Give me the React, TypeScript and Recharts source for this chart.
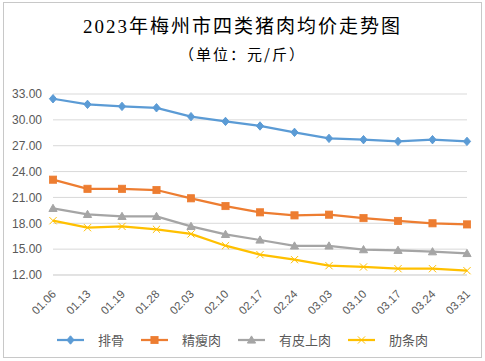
import React from "react";
import { LineChart, Line, XAxis, YAxis, CartesianGrid, Legend } from "recharts";

// 日期（2023年）
const dates = [
  "01.06", "01.13", "01.19", "01.28", "02.03", "02.10", "02.17",
  "02.24", "03.03", "03.10", "03.17", "03.24", "03.31",
];

// 各类猪肉均价（元/斤）
const paigu = [32.45, 31.8, 31.56, 31.4, 30.37, 29.82, 29.29, 28.55, 27.85, 27.7, 27.5, 27.7, 27.5];
const jingshou = [23.06, 22.0, 22.0, 21.86, 20.9, 20.0, 19.27, 18.92, 19.0, 18.6, 18.27, 18.0, 17.87];
const youpi = [19.73, 19.03, 18.8, 18.8, 17.64, 16.71, 16.06, 15.37, 15.37, 14.94, 14.86, 14.7, 14.5];
const leitiao = [18.3, 17.49, 17.64, 17.3, 16.76, 15.4, 14.36, 13.78, 13.08, 12.93, 12.73, 12.73, 12.5];

const yTicks = [12, 15, 18, 21, 24, 27, 30, 33];

const SERIES = [
  { key: "paigu", name: "排骨", color: "#5B9BD5", shape: "diamond" },
  { key: "jingshou", name: "精瘦肉", color: "#ED7D31", shape: "square" },
  { key: "youpi", name: "有皮上肉", color: "#A5A5A5", shape: "triangle" },
  { key: "leitiao", name: "肋条肉", color: "#FFC000", shape: "x" },
];

const data = dates.map((d, i) => ({
  date: d,
  paigu: paigu[i],
  jingshou: jingshou[i],
  youpi: youpi[i],
  leitiao: leitiao[i],
}));

function Marker({ cx, cy, shape, color }: { cx: number; cy: number; shape: string; color: string }) {
  const s = 3.6;
  if (shape === "diamond")
    return <path d={`M${cx},${cy - s - 0.6} L${cx + s},${cy} L${cx},${cy + s + 0.6} L${cx - s},${cy} Z`} fill={color} stroke={color} />;
  if (shape === "square")
    return <rect x={cx - s} y={cy - s} width={s * 2} height={s * 2} fill={color} stroke={color} strokeWidth={0.8} />;
  if (shape === "triangle")
    return <path d={`M${cx},${cy - s - 0.5} L${cx + s + 0.5},${cy + s - 0.5} L${cx - s - 0.5},${cy + s - 0.5} Z`} fill={color} stroke={color} />;
  return (
    <path d={`M${cx - s},${cy - s} L${cx + s},${cy + s} M${cx + s},${cy - s} L${cx - s},${cy + s}`} stroke={color} strokeWidth={1} fill="none" />
  );
}

// 斜45度日期标签
const XTick = (props: any) => {
  const { x, y, payload } = props;
  const ax = x + 1;
  const ay = y + 9;
  return (
    <text
      x={ax}
      y={ay}
      transform={`rotate(-45, ${ax}, ${ay})`}
      textAnchor="end"
      dominantBaseline="central"
      fontSize={11.5}
      fill="#595959"
      fontFamily="'Liberation Sans', Arial, sans-serif"
    >
      {payload.value}
    </text>
  );
};

const renderLegend = () => (
  <div style={{ display: "flex", justifyContent: "center", fontFamily: "'Noto Sans CJK SC', sans-serif", fontSize: 13, color: "#595959" }}>
    {SERIES.map((s, i) => (
      <div key={s.key} style={{ display: "flex", alignItems: "center", marginLeft: i === 0 ? 0 : 17 }}>
        <svg width={27} height={12} style={{ marginRight: 14 }}>
          <line x1={0} y1={6} x2={27} y2={6} stroke={s.color} strokeWidth={2.25} />
          <Marker cx={13.5} cy={6} shape={s.shape} color={s.color} />
        </svg>
        <span>{s.name}</span>
      </div>
    ))}
  </div>
);

export default function App() {
  return (
    <div
      style={{
        position: "absolute",
        left: 3,
        top: 2,
        width: 477,
        height: 354,
        border: "1px solid #c8c8c8",
        background: "#fff",
      }}
    >
      <div
        style={{
          position: "absolute",
          top: 11,
          left: 0,
          width: 477,
          textAlign: "center",
          fontSize: 19,
          letterSpacing: 2,
          fontFamily: "'Liberation Serif', 'Noto Sans CJK SC', serif",
          color: "#000",
          lineHeight: "26px",
        }}
      >
        2023年梅州市四类猪肉均价走势图
      </div>
      <div
        style={{
          position: "absolute",
          top: 40,
          left: 0,
          width: 477,
          textAlign: "center",
          fontSize: 15,
          letterSpacing: 2,
          fontFamily: "'Noto Sans CJK SC', serif",
          color: "#000",
          lineHeight: "22px",
        }}
      >
        （单位：元/斤）
      </div>
      <div style={{ position: "absolute", left: 0, top: 0 }}>
        <LineChart width={477} height={354} data={data} margin={{ top: 91, right: 14, bottom: 0, left: 0 }}>
          <CartesianGrid vertical={false} stroke="#d9d9d9" strokeWidth={1} />
          <XAxis
            dataKey="date"
            height={82}
            axisLine={{ stroke: "#d9d9d9" }}
            tickLine={false}
            interval={0}
            tick={<XTick />}
          />
          <YAxis
            width={49}
            domain={[12, 33]}
            ticks={yTicks}
            axisLine={false}
            tickLine={false}
            tickMargin={5}
            tickFormatter={(v: number) => v.toFixed(2)}
            tick={{ fontSize: 12, fill: "#595959", fontFamily: "'Liberation Sans', Arial, sans-serif" }}
          />
          <Legend
            verticalAlign="middle"
            layout="horizontal"
            content={renderLegend}
            wrapperStyle={{ position: "absolute", top: 327, left: 0, width: 477 }}
          />
          {SERIES.map((s) => (
            <Line
              key={s.key}
              dataKey={s.key}
              name={s.name}
              stroke={s.color}
              strokeWidth={2.25}
              isAnimationActive={false}
              dot={(p: any) => <Marker key={`${s.key}-${p.index}`} cx={p.cx} cy={p.cy} shape={s.shape} color={s.color} />}
              activeDot={false}
            />
          ))}
        </LineChart>
      </div>
    </div>
  );
}
